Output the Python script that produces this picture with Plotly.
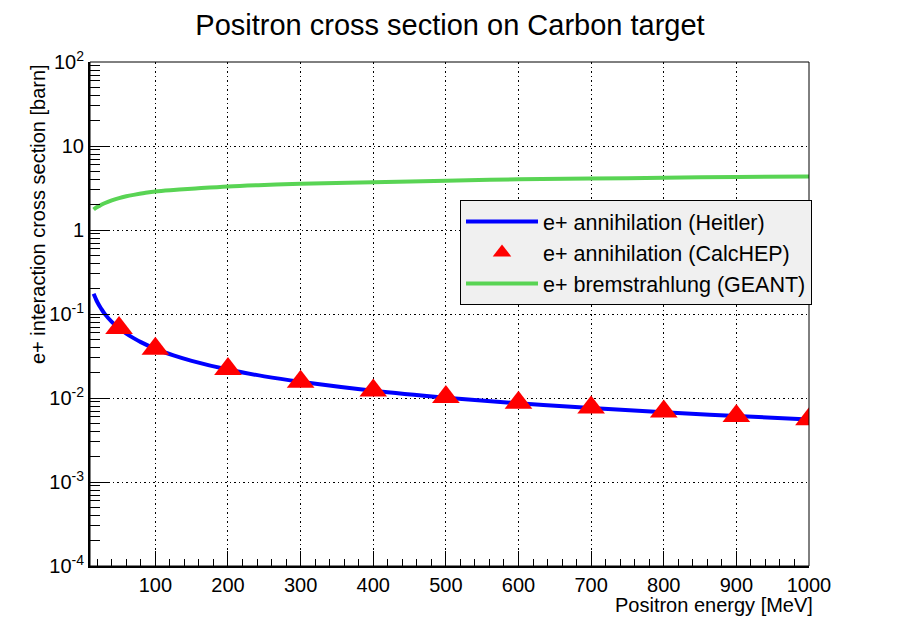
import plotly.graph_objects as go

# ---- data ----
energy_heitler = [15, 17.5, 20, 25, 30, 40, 50, 60, 70, 80, 100, 125, 150, 200, 250,
                  300, 400, 500, 600, 700, 800, 900, 1000]
xsec_heitler = [0.174, 0.155, 0.139, 0.117, 0.101, 0.0807, 0.0676, 0.0584, 0.0516, 0.0463,
                0.0385, 0.0322, 0.0277, 0.0218, 0.0181, 0.0156, 0.0122, 0.0101, 0.00864,
                0.00758, 0.00675, 0.00610, 0.00556]

energy_calchep = [50, 100, 200, 300, 400, 500, 600, 700, 800, 900, 1000]
xsec_calchep = [0.068, 0.0387, 0.0221, 0.0156, 0.0123, 0.0103, 0.0088, 0.0077, 0.0069,
                0.0061, 0.0056]

energy_brems = [15, 17.5, 20, 25, 30, 40, 50, 60, 70, 85, 100, 125, 150, 200, 250, 300,
                400, 500, 600, 700, 800, 900, 1000]
xsec_brems = [1.75, 1.82, 1.88, 1.98, 2.08, 2.25, 2.40, 2.52, 2.62, 2.76, 2.88, 3.00, 3.10,
              3.30, 3.44, 3.56, 3.71, 3.86, 4.02, 4.10, 4.19, 4.27, 4.34]

x_tickvals = [100, 200, 300, 400, 500, 600, 700, 800, 900, 1000]
x_ticktext = ["100", "200", "300", "400", "500", "600", "700", "800", "900", "1000"]
y_tickvals = [1e-4, 1e-3, 1e-2, 1e-1, 1, 10, 100]
y_ticktext = ["10<sup>-4</sup>", "10<sup>-3</sup>", "10<sup>-2</sup>", "10<sup>-1</sup>",
              "1", "10", "10<sup>2</sup>"]
y_minor = [k * 10.0 ** d for d in range(-4, 2) for k in range(2, 10)]
x_minor = [v for v in range(20, 1000, 20) if v % 100 != 0]

FONT = "Liberation Sans, Arial, Helvetica, sans-serif"

# page body has an 8px margin -> figure drawn at (8, 8) in the 900x630 window
W, H = 892, 622
L, R, T, B = 82, 91, 54, 64
PW, PH = W - L - R, H - T - B

fig = go.Figure()
fig.add_trace(go.Scatter(x=energy_heitler, y=xsec_heitler, mode="lines",
                         line=dict(color="#0000ff", width=4, shape="spline"),
                         name="e+ annihilation (Heitler)"))
fig.add_trace(go.Scatter(x=energy_calchep, y=xsec_calchep, mode="markers",
                         marker=dict(symbol="triangle-up", color="#ff0000", size=24,
                                     line=dict(width=0)),
                         name="e+ annihilation (CalcHEP)"))
fig.add_trace(go.Scatter(x=energy_brems, y=xsec_brems, mode="lines",
                         line=dict(color="#59d454", width=4, shape="spline"),
                         name="e+ bremstrahlung (GEANT)"))

fig.update_layout(
    width=W, height=H,
    margin=dict(l=L, r=R, t=T, b=B),
    paper_bgcolor="white", plot_bgcolor="white",
    font=dict(family=FONT, color="black", size=20),
    title=dict(text="Positron cross section on Carbon target", x=442 / W, xanchor="center",
               y=1 - 17 / H, yanchor="middle", yref="container",
               font=dict(size=29, family=FONT, color="black")),
    showlegend=True,
    legend=dict(x=(460 - 90) / PW, y=(566 - 200) / PH, xanchor="left", yanchor="top",
                bgcolor="#f0f0f0", bordercolor="black", borderwidth=1,
                font=dict(size=21.5, family=FONT, color="black"),
                itemwidth=72, tracegroupgap=0),
)

GRIDDASH = "1.5px,3px"
fig.update_xaxes(
    range=[10, 1000], tickmode="array", tickvals=x_tickvals, ticktext=x_ticktext,
    ticks="inside", ticklen=15, tickwidth=1, tickcolor="black",
    minor=dict(tickmode="array", tickvals=x_minor, ticks="inside", ticklen=7,
               tickwidth=1, tickcolor="black", showgrid=False),
    showgrid=True, gridcolor="black", gridwidth=1, griddash=GRIDDASH,
    showline=True, linecolor="black", linewidth=2, mirror=False,
    zeroline=False, tickfont=dict(size=20, family=FONT, color="black"),
)
fig.update_yaxes(
    type="log", range=[-4, 2], tickmode="array", tickvals=y_tickvals, ticktext=y_ticktext,
    ticks="inside", ticklen=20, tickwidth=1, tickcolor="black",
    minor=dict(tickmode="array", tickvals=y_minor, ticks="inside", ticklen=10,
               tickwidth=1, tickcolor="black", showgrid=False),
    showgrid=True, gridcolor="black", gridwidth=1, griddash=GRIDDASH,
    showline=True, linecolor="black", linewidth=2, mirror=False,
    zeroline=False, tickfont=dict(size=20, family=FONT, color="black"),
)

# frame (top / right borders)
fig.add_shape(type="rect", xref="x domain", yref="y domain", x0=0, x1=1, y0=0, y1=1,
              line=dict(color="black", width=1), fillcolor="rgba(0,0,0,0)", layer="above")

# axis titles, aligned like the original (right / top)
fig.add_annotation(text="Positron energy [MeV]", xref="x domain", yref="y domain",
                   x=1.0, xshift=6, y=0, xanchor="right", yanchor="middle", yshift=-39,
                   showarrow=False, font=dict(size=20, family=FONT, color="black"))
fig.add_annotation(text="e+ interaction cross section [barn]", xref="paper", yref="y domain",
                   x=0, xshift=-52, y=1.0, xanchor="center", yanchor="top", textangle=-90,
                   showarrow=False, font=dict(size=20, family=FONT, color="black"))

fig.write_html("out.html")
